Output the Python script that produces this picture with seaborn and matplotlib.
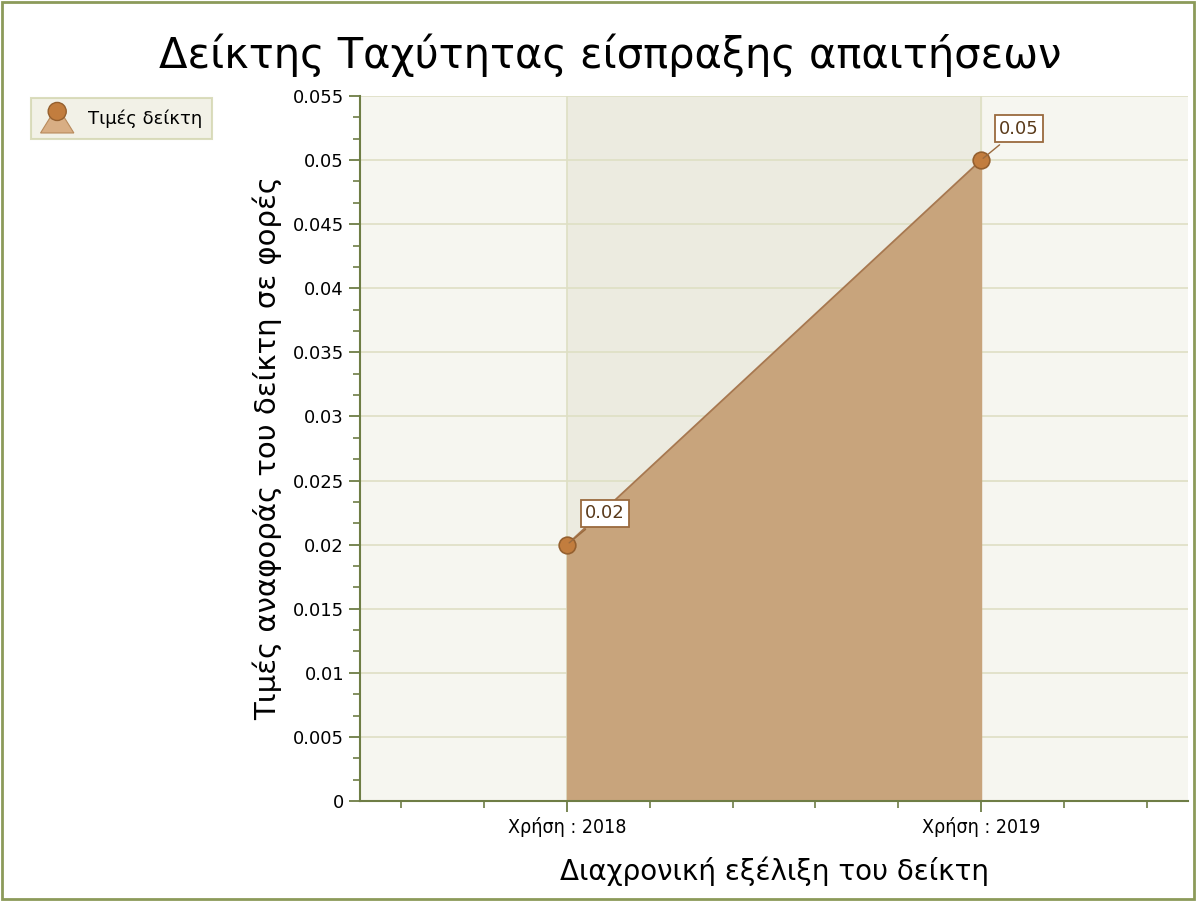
import numpy as np
import pandas as pd
import matplotlib.pyplot as plt
import seaborn as sns
from matplotlib.ticker import MultipleLocator
from matplotlib.legend_handler import HandlerBase
from matplotlib.patches import Polygon, Circle

# Datos
categorias = ["Χρήση : 2018", "Χρήση : 2019"]
valores = [0.02, 0.05]
etiquetas = ["0.02", "0.05"]

df = pd.DataFrame({"pos": np.arange(len(categorias)), "valor": valores})

sns.set_style("white")
plt.rcParams["font.family"] = ["DejaVu Sans"]
plt.rcParams["text.color"] = "black"
plt.rcParams["axes.labelcolor"] = "black"

fig = plt.figure(figsize=(11.96, 9.01), dpi=100)
fig.patch.set_facecolor("white")
ax = fig.add_axes([360 / 1196, 1 - 801 / 901, 828 / 1196, 705 / 901])
ax.set_facecolor("#f6f6f0")

# Franja alterna
ax.axvspan(0, 1, color="#ecebe0", zorder=0)

# Área y línea
ax.fill_between(df["pos"], df["valor"], color="#c8a47c", zorder=2)
sns.lineplot(x="pos", y="valor", data=df, ax=ax, color="#a77850", linewidth=1.3,
             marker="o", markersize=12, markerfacecolor="#c27d3e",
             markeredgecolor="#95602f", markeredgewidth=1.2, zorder=4)

# Etiquetas de valores
for x, y, t in zip(df["pos"], df["valor"], etiquetas):
    ax.annotate(t, xy=(x, y), xytext=(13, 16), textcoords="offset points",
                fontsize=13, color="#5a3a1a", zorder=5, va="bottom", ha="left",
                bbox=dict(boxstyle="square,pad=0.25", fc="white", ec="#9a6a3e", lw=1.3),
                arrowprops=dict(arrowstyle="-", color="#9a6a3e", lw=1))

# Ejes
ax.set_xlim(-0.5, 1.5)
ax.set_ylim(0, 0.055)
ax.set_xticks(df["pos"])
ax.set_xticklabels(categorias, fontsize=14, fontstretch="condensed")
ax.xaxis.set_minor_locator(MultipleLocator(0.2))
ax.yaxis.set_minor_locator(MultipleLocator(0.005 / 3))
ax.set_yticks(np.arange(0, 0.0551, 0.005))
ax.set_yticklabels(["0"] + ["%g" % round(v, 3) for v in np.arange(0.005, 0.0551, 0.005)], fontsize=13)
ax.grid(True, which="major", color="#dedfc4", linewidth=1.2, zorder=1)
ax.set_axisbelow(True)
for s in ["top", "right"]:
    ax.spines[s].set_visible(False)
for s in ["left", "bottom"]:
    ax.spines[s].set_color("#6e7d45")
    ax.spines[s].set_linewidth(1.5)
ax.tick_params(which="major", direction="out", length=8, width=1.3, color="#6e7d45",
               labelcolor="black", bottom=True, left=True)
ax.tick_params(which="minor", direction="out", length=5, width=1.2, color="#6e7d45",
               bottom=True, left=True)

# Títulos
fig.text(0.51, 1 - 55 / 901, "Δείκτης Ταχύτητας είσπραξης απαιτήσεων", fontsize=30,
         ha="center", va="center")
ax.set_xlabel("Διαχρονική εξέλιξη του δείκτη", fontsize=20, labelpad=14)
ax.set_ylabel("Τιμές αναφοράς του δείκτη σε φορές", fontsize=21, labelpad=8)


# Leyenda con icono de área
class HandlerArea(HandlerBase):
    def create_artists(self, legend, orig_handle, xdescent, ydescent, width, height, fontsize, trans):
        cx = width / 2 - xdescent
        tri = Polygon([[cx - 12, -ydescent - 3], [cx + 12, -ydescent - 3], [cx + 4, height * 0.45],
                       [cx - 4, height * 0.45]], closed=True, fc="#d8ae84", ec="#b88a5c", lw=0.8,
                      transform=trans)
        circ = Circle((cx, height * 0.62), 6.5, fc="#c27d3e", ec="#95602f", lw=1, transform=trans)
        return [tri, circ]


h = Polygon([[0, 0], [1, 0], [0.5, 1]])
leg = fig.legend([h], ["Τιμές δείκτη"], loc="upper left", bbox_to_anchor=(22 / 1196, 1 - 89 / 901),
                 fontsize=13, frameon=True, fancybox=False, handlelength=1.8, handleheight=1.4,
                 borderpad=0.55, handler_map={Polygon: HandlerArea()})
leg.get_frame().set_facecolor("#efeee2")
leg.get_frame().set_edgecolor("#d2d5ae")
leg.get_frame().set_linewidth(1.5)

# Borde de la figura
fig.add_artist(plt.Rectangle((0.002, 0.002), 0.996, 0.996, transform=fig.transFigure,
                             fill=False, edgecolor="#8c9a5a", linewidth=2))

plt.savefig("out.png", dpi=100)
